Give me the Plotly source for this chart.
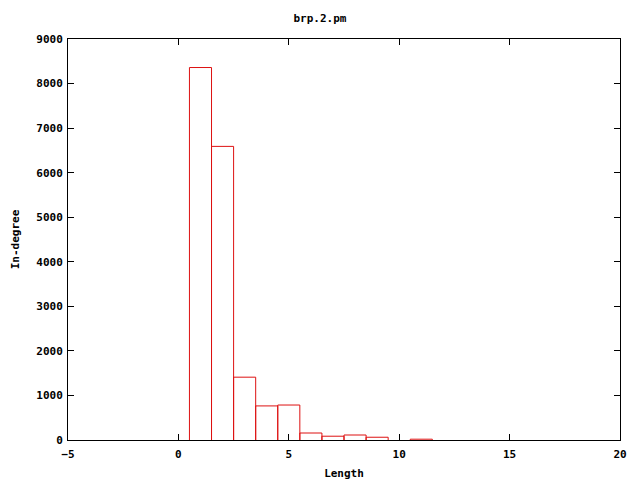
import plotly.graph_objects as go

lengths = [1, 2, 3, 4, 5, 6, 7, 8, 9, 10, 11]
in_degree = [8360, 6590, 1410, 765, 785, 157, 85, 112, 62, 0, 18]
bin_width = 1
x_ticks = [-5, 0, 5, 10, 15, 20]
y_ticks = [0, 1000, 2000, 3000, 4000, 5000, 6000, 7000, 8000, 9000]

font = dict(family="DejaVu Sans Mono", size=11, color="black", weight="bold")

# outline of each histogram box (open at the bottom, which lies on the axis)
px, py = [], []
for c, h in zip(lengths, in_degree):
    if h <= 0:
        continue
    x0, x1 = c - bin_width / 2, c + bin_width / 2
    px += [x0, x0, x1, x1, None]
    py += [0, h, h, 0, None]

fig = go.Figure(go.Scatter(
    x=px, y=py, mode="lines", line=dict(color="#dd1111", width=1),
    hoverinfo="skip", cliponaxis=True,
))

axis_common = dict(
    showgrid=False, zeroline=False, showline=True, linecolor="black", linewidth=1,
    mirror="ticks", ticks="inside", ticklen=6, tickcolor="black", tickwidth=1,
    tickfont=font, automargin=False,
)
fig.update_layout(
    width=640, height=480,
    margin=dict(l=68, r=20, t=39, b=40),
    plot_bgcolor="white", paper_bgcolor="white",
    showlegend=False,
    title=dict(text="brp.2.pm", x=0.5, xanchor="center", y=0.962, yanchor="middle", font=font),
    xaxis=dict(range=[-5, 20], tickvals=x_ticks, ticklabelstandoff=4,
               title=dict(text="Length", font=font, standoff=9), **axis_common),
    yaxis=dict(range=[0, 9000], tickvals=y_ticks, ticklabelstandoff=2,
               title=dict(text="In-degree", font=font, standoff=14), **axis_common),
)
fig.write_html("out.html", config={"displayModeBar": False},
               post_script="document.body.style.margin='0';document.body.style.overflow='hidden';")
